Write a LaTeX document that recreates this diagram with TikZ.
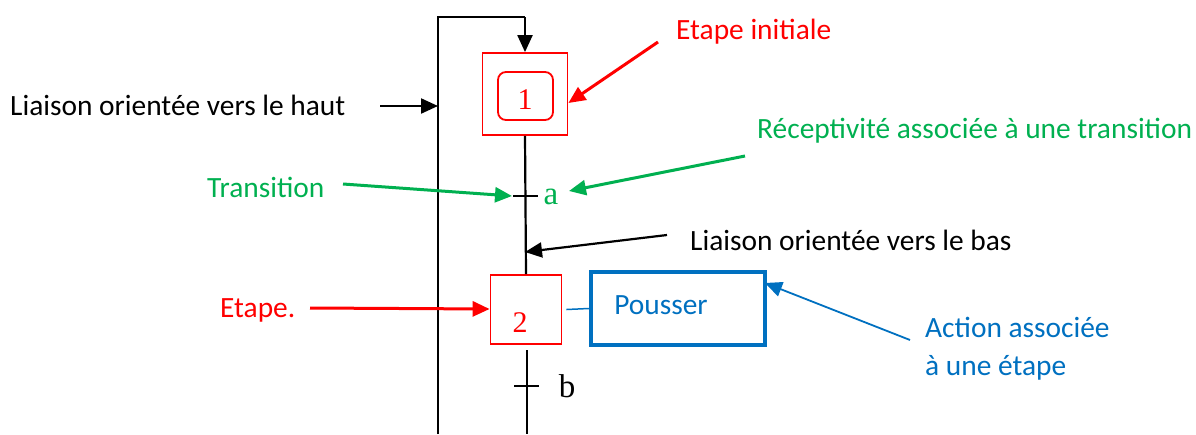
\documentclass[tikz,border=0pt]{standalone}
\usepackage{fontspec}
\setmainfont{Carlito}
\newfontfamily\numfont{Liberation Serif}
\usetikzlibrary{arrows.meta}
\definecolor{gred}{RGB}{255,0,0}
\definecolor{ggreen}{RGB}{0,176,80}
\definecolor{gblue}{RGB}{0,112,192}
\begin{document}
\begin{tikzpicture}[x=1pt,y=-1pt,
  lbl/.style={font=\fontsize{29.4}{34}\selectfont, inner sep=0pt},
  stepbox/.style={draw=gred, line width=1.8pt, inner sep=0pt},
  num/.style={font=\numfont\fontsize{30}{32}\selectfont, inner sep=0pt},
  letter/.style={font=\numfont\fontsize{33}{35}\selectfont, inner sep=0pt},
  blk/.style={line width=2.2pt, black},
  tip/.style={-{Triangle[length=17pt,width=15pt]}},
  callout/.style={line width=3pt, tip}]
\useasboundingbox (0,0) rectangle (1196,434);
% steps
\node[stepbox, minimum width=85pt, minimum height=82pt] (s1) at (525,94) {};
\node[draw=gred, line width=1.8pt, rounded corners=8pt, minimum width=55pt, minimum height=48pt] (s1i) at (525.5,96) {};
\node[num, text=gred] (n1) at (525,100) {1};
\node[stepbox, minimum width=71pt, minimum height=69pt] (s2) at (526,309.5) {};
\node[num, text=gred] (n2) at (520,323) {2};
\node[draw=gblue, line width=4pt, minimum width=174pt, minimum height=73pt, inner sep=0pt] (act) at (678,308.5) {};
\node[lbl, text=gblue] (pous) at (661,305) {Pousser};
% links
\coordinate (t1) at (525,196);
\coordinate (t1l) at (512,196);
\coordinate (arrB) at (525,252);
\draw[blk] (s1.south) -- (s2.north);
\draw[blk] (513,196) -- (538,196);
\node[letter, text=ggreen] (ra) at (551,197) {a};
\coordinate (l2) at (527,350);
\coordinate (l2b) at (527,434);
\draw[blk] (l2) -- (l2b);
\draw[blk] (514,386) -- (539,386);
\node[letter, text=black] (rb) at (567,386) {b};
\draw[gblue, line width=1.5pt] (s2.east) ++(4pt,0) coordinate (ae) -- (act.west);
% loop
\coordinate (lb) at (438,434);
\coordinate (lt) at (438,17);
\coordinate (rt) at (525,17);
\draw[blk, line join=miter] (lb) -- (lt) -- (rt);
\draw[blk, tip] (rt) -- (s1.north);
% labels
\node[lbl, anchor=west] (lh) at (10,105) {Liaison orientée vers le haut};
\coordinate (lha) at (380,106);
\draw[blk, tip] (lha) -- (438,106);
\node[lbl, text=gred, anchor=west] (ei) at (676,32) {Etape initiale};
\coordinate (eia) at (658,42);
\draw[gred, callout] (eia) -- (s1.east |- 0,103);
\node[lbl, text=ggreen, anchor=west] (rc) at (757,131) {Réceptivité associée à une transition};
\coordinate (rca) at (745,156);
\draw[ggreen, callout] (rca) -- (569,191);
\node[lbl, text=ggreen, anchor=west] (tr) at (207,187) {Transition};
\coordinate (tra) at (343,184);
\draw[ggreen, callout] (tra) -- (t1l);
\node[lbl, anchor=west] (lb2) at (690,240) {Liaison orientée vers le bas};
\coordinate (lba) at (667,235);
\draw[blk, tip] (lba) -- (arrB);
\node[lbl, text=gred, anchor=west] (et) at (220,310) {Etape.};
\coordinate (eta) at (310,308);
\draw[gred, callout] (eta) -- (s2.west |- 0,309);
\node[lbl, text=gblue, anchor=west] (ac1) at (925,327) {Action associée};
\node[lbl, text=gblue, anchor=west] (ac2) at (925,368) {à une étape};
\coordinate (aca) at (910,340);
\draw[gblue, line width=1.8pt, tip] (aca) -- (765,283);
\end{tikzpicture}
\end{document}
